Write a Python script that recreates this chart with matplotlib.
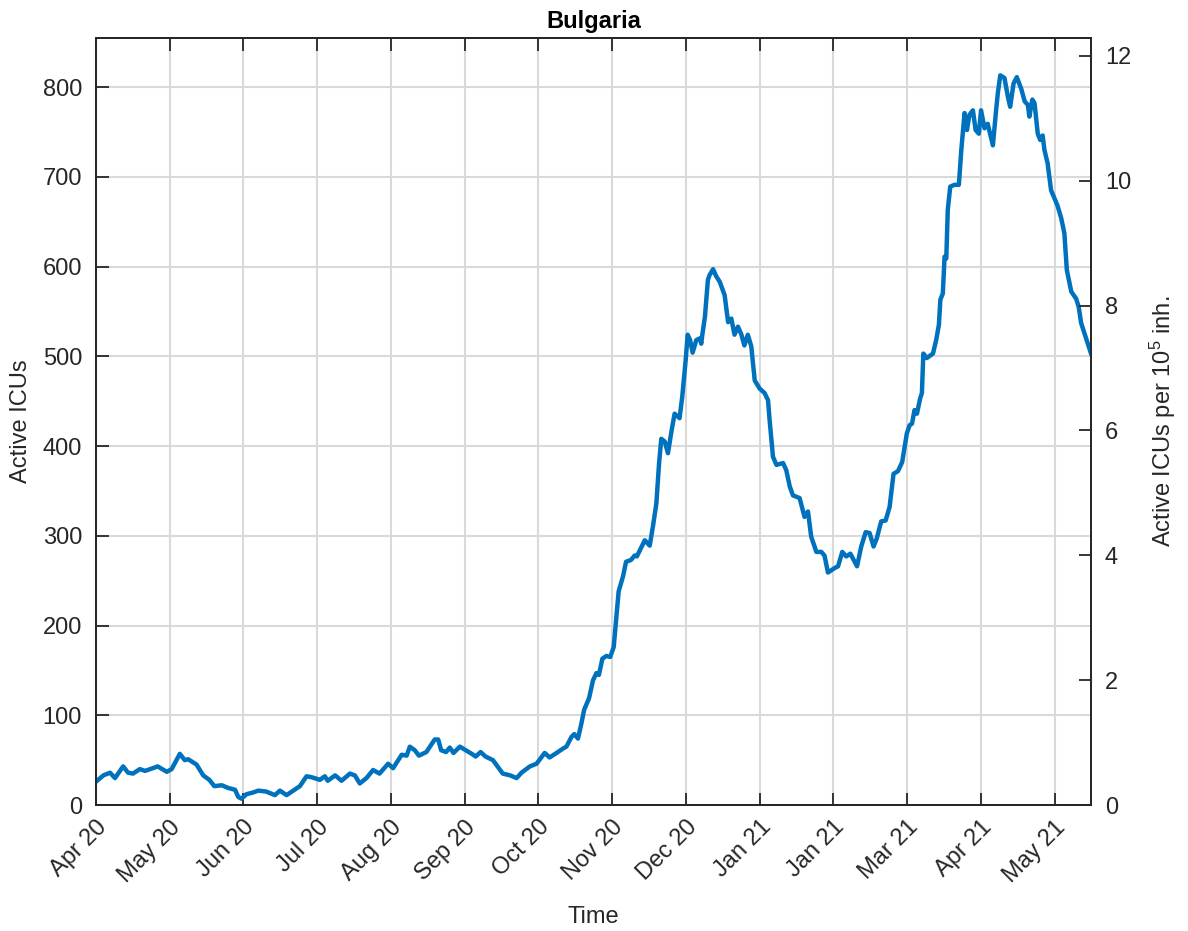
import numpy as np
import matplotlib
matplotlib.use('Agg')
import matplotlib.pyplot as plt

plt.rcParams['font.family'] = ['Liberation Sans', 'DejaVu Sans']
plt.rcParams['mathtext.default'] = 'regular'

# days since first tick (Apr 20) and active ICU counts
days = [0, 3, 5.7, 7.7, 11, 13, 15, 17.8, 19.9, 22, 25, 28.7, 30.7, 34, 36, 37.4,
        40.8, 43.5, 46, 48, 51, 53.6, 56.4, 57.7, 59, 61, 63.8, 65.8, 69, 72.6,
        74.6, 77.3, 80, 82.7, 85.4, 87.4, 90.8, 92.8, 94, 97, 99.6, 103, 105, 107,
        109.7, 112.4, 115, 118.5, 120.5, 124, 126, 127.3, 129.3, 131, 134, 137.4,
        138.8, 140, 142, 143.5, 145, 147.6, 150, 153, 154, 156, 158, 161, 165, 168,
        170.6, 172.6, 176, 178.7, 182, 184, 186.8, 189.5, 190.8, 192.9, 194, 195.5,
        196.9, 198, 200, 201.6, 203, 204, 205.4, 207, 208.6, 210, 211.3, 212, 213.8,
        215, 217, 218.5, 219.4, 221, 222.6, 224.6, 226, 227.3, 228.4, 229.3, 230.7,
        232, 233.4, 234.7, 236.7, 237.8, 239.2, 240, 241, 242, 243.5, 245, 245.5,
        246, 247, 248.2, 248.8, 250.3, 251.6, 253, 255, 256.4, 257.7, 259, 260.4,
        261.8, 263, 264.4, 265.8, 267.2, 269.2, 271.2, 272.6, 273.2, 274.6, 276,
        278.7, 280, 281.4, 282.7, 285.4, 287.4, 288.8, 290.1, 292.2, 294.2, 295.5,
        296.9, 299.6, 301, 302.7, 304.3, 306, 308.7, 310.4, 312.2, 313.8, 315.4,
        316.7, 318.5, 320.3, 321.9, 323.5, 325.3, 327, 328, 328.9, 330, 331, 332,
        333, 334.3, 335, 335.6, 337, 339.5, 340.8, 341.9, 342.5, 343.5, 344.2,
        344.9, 345.5, 346.5, 348.2, 350, 351, 352.3, 353.3, 354.3, 355.7, 356.8,
        358.1, 359, 360.4, 361.7, 363.8, 365.1, 365.8, 366.8, 368.5, 369.9, 370.8,
        372.2, 373.5, 375.3, 376.7, 378, 378.6, 379.8, 380.7, 382, 383, 384, 384.7,
        386, 387.4, 388.8, 390, 391.5, 392.8, 393.8, 395.6, 397.6, 398.6, 399.6,
        401.6, 403.6]
icu = [26, 33, 36, 30, 43, 36, 35, 40, 38, 40, 43, 37, 40, 57, 50, 51,
       45, 33, 28, 21, 22, 19, 17, 9, 7, 12, 14, 16, 15, 11,
       16, 11, 16, 21, 32, 31, 28, 32, 27, 33, 27, 35, 33, 24,
       30, 39, 35, 46, 41, 56, 55, 65, 61, 55, 59, 73,
       73, 61, 59, 64, 58, 65, 61, 56, 54, 59, 54, 50, 35, 33,
       30, 36, 43, 46, 58, 53, 58, 63, 65, 76, 79, 74,
       91, 106, 119, 139, 147, 145, 163, 166, 165, 176, 217, 238, 255,
       271, 273, 278, 277, 286, 295, 289, 312, 336, 381, 408, 405,
       392, 416, 436, 431, 455, 496, 524, 518, 504, 518, 520, 514,
       525, 544, 585, 590, 597, 589, 583, 568, 538, 542, 524, 533,
       524, 512, 524, 511, 473, 464, 459, 451, 430, 388, 379,
       381, 373, 355, 345, 342, 321, 327, 299, 282, 282, 278,
       259, 264, 266, 282, 277, 280, 266, 288, 304, 303, 288,
       297, 316, 317, 332, 369, 372, 382, 399, 414, 423, 425, 440,
       436, 453, 459, 503, 498, 503, 518, 535, 563, 570, 611,
       609, 663, 689, 691, 691, 730, 771, 752, 769, 774, 752,
       748, 774, 754, 759, 735, 774, 793, 813, 810, 789, 778,
       804, 811, 798, 784, 780, 767, 786, 782, 748, 741, 746, 730,
       715, 685, 676, 668, 654, 637, 596, 572, 564, 555, 537,
       520, 503]

tick_labels = ['Apr 20', 'May 20', 'Jun 20', 'Jul 20', 'Aug 20', 'Sep 20', 'Oct 20',
               'Nov 20', 'Dec 20', 'Jan 21', 'Jan 21', 'Mar 21', 'Apr 21', 'May 21']
population_per_1e5 = 69.56  # ICUs per 1 unit on the right axis

ink = '#262626'
blue = '#0072BD'
fs = 17

fig = plt.figure(figsize=(11.88, 9.31), dpi=100)
ax = fig.add_axes([96 / 1188, 1 - 805 / 931, 995 / 1188, 767 / 931])

ax.plot(days, icu, color=blue, linewidth=3.2, solid_joinstyle='round', zorder=3)

tick_step = 29.91
ax.set_xticks([i * tick_step for i in range(len(tick_labels))])
ax.set_xticklabels(tick_labels, rotation=45, ha='right', rotation_mode='anchor')
ax.set_xlim(0, 403.6)
ax.set_ylim(0, 854.6)
ax.set_yticks(np.arange(0, 801, 100))

ax.grid(True, color='#d9d9d9', linewidth=1.5)
ax.set_axisbelow(True)
ax.tick_params(axis='both', direction='in', length=9, width=1.3, colors=ink,
               labelsize=fs, top=True, right=False)
ax.tick_params(axis='x', pad=8)
ax.tick_params(axis='y', pad=10)
for sp in ax.spines.values():
    sp.set_color(ink)
    sp.set_linewidth(1.3)

ax.set_xlabel('Time', fontsize=fs, color=ink, labelpad=14)
ax.set_ylabel('Active ICUs', fontsize=fs, color=ink, labelpad=8)
ax.set_title('Bulgaria', fontsize=fs, fontweight='bold', color='black', pad=7)

ax2 = ax.twinx()
ax2.set_ylim(0, 854.6 / population_per_1e5)
ax2.set_yticks(np.arange(0, 13, 2))
ax2.tick_params(axis='y', direction='in', length=9, width=1.3, colors=ink,
                labelsize=fs, pad=10)
for sp in ax2.spines.values():
    sp.set_color(ink)
    sp.set_linewidth(1.3)
ax2.set_ylabel('Active ICUs per 10$^{5}$ inh.', fontsize=fs, color=ink, labelpad=12)

fig.savefig('out.png', dpi=100)
